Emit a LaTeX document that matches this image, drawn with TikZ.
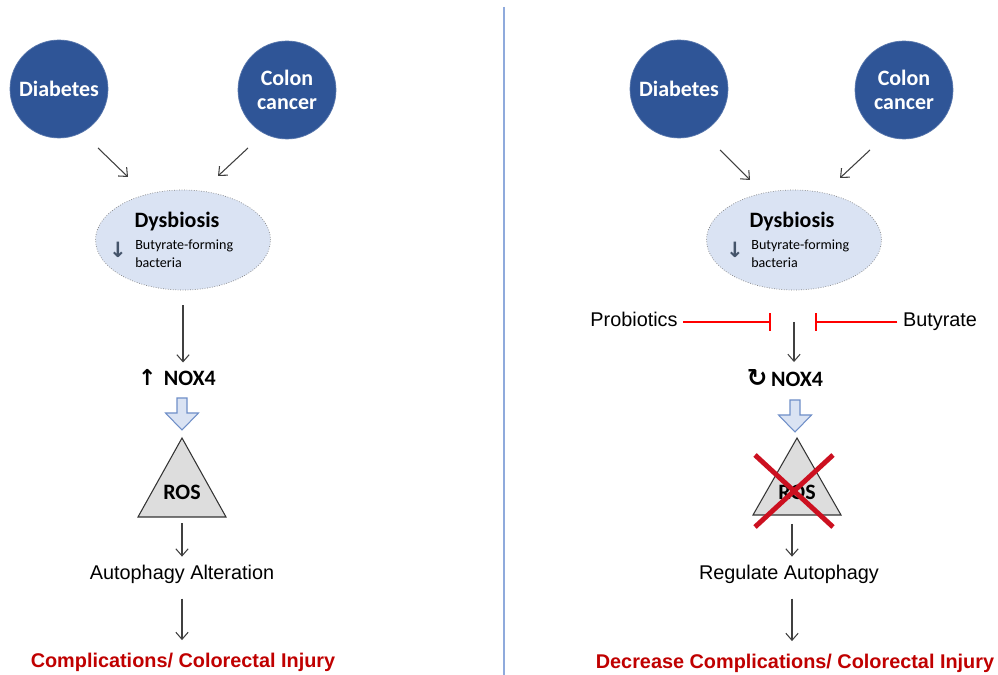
\documentclass[tikz,border=0pt]{standalone}
\usepackage{fontspec}
\setmainfont{Liberation Sans}
\newfontfamily\calfont{Carlito}
\newfontfamily\symfont{DejaVu Sans}
\usepackage{xcolor}
\usetikzlibrary{arrows.meta,positioning,shapes.geometric}

\definecolor{circblue}{HTML}{2F5597}
\definecolor{dysfill}{HTML}{DAE3F3}
\definecolor{arrline}{HTML}{6F8FC8}
\definecolor{dkred}{HTML}{C00000}
\definecolor{xred}{HTML}{CC1020}
\definecolor{divline}{HTML}{8FAADC}
\definecolor{rosgray}{HTML}{DDDDDD}
\definecolor{dngray}{HTML}{44546A}

\tikzset{
  disease/.style={circle, fill=circblue, draw=circblue!80, minimum size=1.96cm, inner sep=0pt,
    text=white, align=center, font=\calfont\bfseries\fontsize{12.5}{14}\selectfont},
  dysnode/.style={ellipse, draw=gray, densely dotted, fill=dysfill, minimum width=3.5cm, minimum height=2cm},
  arr/.style={-{Straight Barb[length=4pt,width=7pt]}, line width=0.6pt, draw=black!75},
  inh/.style={-{Bar[width=10pt]}, draw=red, line width=0.9pt},
  plain/.style={font=\fontsize{11.3}{13}\selectfont, inner sep=0pt, text height=8pt, text depth=2.5pt},
  boldcal/.style={font=\calfont\bfseries\fontsize{12.5}{14}\selectfont, inner sep=0pt},
  small/.style={font=\calfont\fontsize{8}{10}\selectfont, inner sep=0pt, align=left, anchor=west},
  dnmark/.style={inner sep=0pt, font=\symfont\bfseries\fontsize{12}{12}\selectfont, text=dngray},
  outcome/.style={font=\bfseries\fontsize{11.3}{13}\selectfont, text=dkred, inner sep=0pt},
  rostri/.style={draw=black!80, fill=rosgray, line width=0.6pt},
  blockarr/.pic={
    \draw[draw=arrline, fill=dysfill, line width=0.6pt]
      (-5,0) -- (5,0) -- (5,15) -- (16.5,15) -- (0,32) -- (-16.5,15) -- (-5,15) -- cycle;
  }
}

\begin{document}
\begin{tikzpicture}[x=0.02cm, y=-0.02cm]
  \useasboundingbox[fill=white] (0,0) rectangle (998,675);

  % divider
  \draw[divline, line width=0.8pt] (504,7) -- (504,675);

  % ---- left: without treatment
  \node[disease] (diaL) at (59,89) {Diabetes};
  \node[disease] (colL) at (287,90) {Colon\\cancer};
  \node[dysnode] (dysL) at (183,240) {};
  \node[boldcal] (dysLt) at (177,222) {Dysbiosis};
  \node[small] (butL) at (135,254) {Butyrate-forming\\bacteria};
  \node[dnmark] (dnL) at (118,250) {↓};
  \node[boldcal] (noxL) at (177,378) {{\symfont\bfseries\fontsize{12.5}{13}\selectfont↑}\,\,NOX4};
  \pic at (182,398) {blockarr};
  \draw[rostri] (182,438) -- (226,517) -- (138,517) -- cycle;
  \node[boldcal] (rosL) at (182,492) {ROS};
  \node[plain] (autoL) at (182,575) {Autophagy Alteration};
  \node[outcome] (outL) at (183,662) {Complications/ Colorectal Injury};

  \coordinate (aL1) at (98,148);  \coordinate (bL1) at (128,177);
  \coordinate (aL2) at (248,148); \coordinate (bL2) at (218,176);
  \draw[arr] (aL1) -- (bL1);
  \draw[arr] (aL2) -- (bL2);
  \draw[arr, shorten <=8.5pt, shorten >=4pt] (dysL.south) -- (noxL.north -| dysL.south);
  \draw[arr, shorten <=3.5pt, shorten >=5pt] (182,517) -- (autoL.north);
  \draw[arr, shorten <=8pt, shorten >=7pt] (autoL.south) -- (outL.north -| autoL.south);

  % ---- right: with probiotics / butyrate
  \node[disease] (diaR) at (679,89) {Diabetes};
  \node[disease] (colR) at (904,90) {Colon\\cancer};
  \node[dysnode] (dysR) at (794,240) {};
  \node[boldcal] (dysRt) at (792,222) {Dysbiosis};
  \node[small] (butR) at (751,254) {Butyrate-forming\\bacteria};
  \node[dnmark] (dnR) at (735,250) {↓};
  \node[plain] (prob) at (634,322) {Probiotics};
  \node[plain] (butyr) at (940,322) {Butyrate};
  \node[boldcal] (noxR) at (785,378) {{\symfont\fontsize{14}{14}\selectfont↻}\,NOX4};
  \pic at (795,400) {blockarr};
  \draw[rostri] (797,438) -- (841,515) -- (753,515) -- cycle;
  \node[boldcal] (rosR) at (797,492) {ROS};
  \draw[xred, line width=2.8pt] (755,455) -- (833,527);
  \draw[xred, line width=2.8pt] (833,455) -- (755,527);
  \node[plain] (autoR) at (789,575) {Regulate Autophagy};
  \node[outcome] (outR) at (795,663) {Decrease Complications/ Colorectal Injury};

  \coordinate (aR1) at (720,150); \coordinate (bR1) at (750,180);
  \coordinate (aR2) at (870,150); \coordinate (bR2) at (840,178);
  \draw[arr] (aR1) -- (bR1);
  \draw[arr] (aR2) -- (bR2);
  \coordinate (barL) at (771,322);
  \coordinate (barR) at (815,322);
  \draw[inh, shorten <=3pt] (prob.east) -- (barL);
  \draw[inh, shorten <=3pt] (butyr.west) -- (barR);
  \draw[arr, shorten <=18pt, shorten >=4pt] (dysR.south) -- (dysR.south |- noxR.north);
  \draw[arr, shorten <=5pt, shorten >=5pt] (792,515) -- (792,575 |- autoR.north);
  \draw[arr, shorten <=8pt, shorten >=7pt] (792,575 |- autoR.south) -- (792,663 |- outR.north);
\end{tikzpicture}
\end{document}
